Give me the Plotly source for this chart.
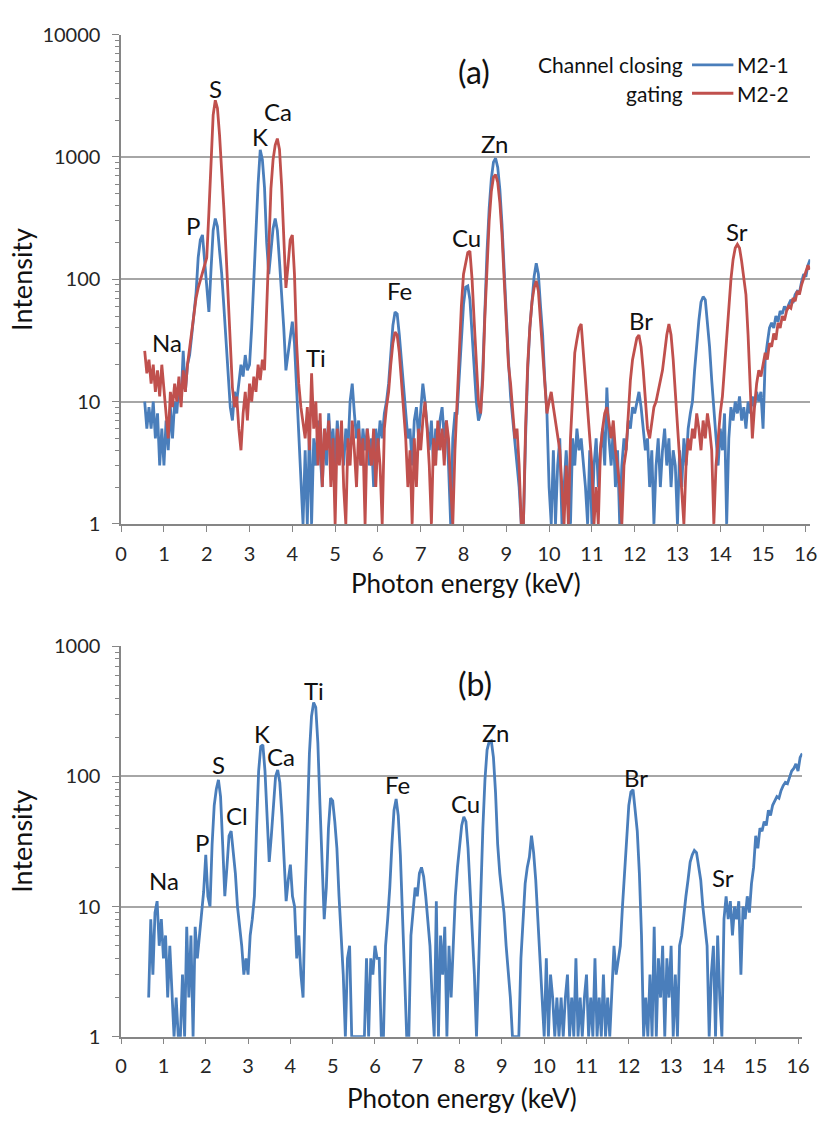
import numpy as np
import plotly.graph_objects as go

# ---- spectrum data (counts), 0.05 keV channels ----
# Panel (a): channel closing M2-1 / gating M2-2, channels from 0.55 keV
E0_A = 0.55
m21_counts = [
    10, 6, 9, 6, 10, 5, 8, 3, 6,
    3, 7, 4, 9, 5, 10, 8, 14, 10, 26, 12, 20, 24, 35, 50, 77, 150, 210, 230, 140,
    75, 54, 120, 250, 313, 270, 170, 110, 60, 30, 18, 9, 7, 12, 10, 15, 20, 16, 24, 18,
    20, 40, 100, 260, 600, 1140, 950, 560, 200, 110, 160, 260, 313, 250, 140, 80, 40, 18, 25, 35,
    45, 30, 13, 6, 2, 1, 4, 1, 6, 1, 5, 3, 7, 4, 2, 6, 3, 8, 4, 6,
    3, 7, 4, 5, 3, 6, 4, 10, 14, 8, 5, 7, 3, 6, 4, 6, 3, 5, 2, 6,
    4, 7, 5, 8, 10, 14, 25, 42, 54, 52, 35, 22, 12, 8, 5, 6, 3, 7, 9, 5,
    8, 14, 10, 6, 4, 7, 3, 6, 4, 7, 9, 5, 7, 3, 1, 5, 8, 8, 16, 32,
    62, 86, 88, 68, 38, 18, 10, 7, 8, 18, 60, 170, 380, 660, 905, 975, 820, 540, 280, 115,
    44, 22, 11, 7, 5, 3, 2, 1, 1, 5, 18, 40, 70, 105, 135, 110, 60, 35, 15, 8,
    2, 1, 4, 1, 3, 5, 1, 2, 4, 2, 1, 5, 3, 6, 4, 5, 3, 2, 1, 4,
    1, 3, 5, 2, 4, 6, 3, 13, 5, 3, 6, 2, 4, 1, 3, 5, 4, 7, 6, 9,
    8, 10, 12, 9, 6, 4, 5, 2, 4, 1, 3, 5, 2, 4, 6, 3, 5, 2, 4, 3,
    1, 4, 2, 5, 3, 6, 8, 10, 18, 30, 46, 65, 72, 68, 45, 28, 15, 9, 5, 3,
    6, 4, 8, 1, 5, 9, 7, 10, 8, 11, 7, 9, 6, 10, 8, 11, 9, 12, 10, 12,
    6, 22, 30, 40, 44, 40, 50, 45, 55, 52, 60, 56, 62, 68, 64, 75, 80, 78, 95, 110,
    105, 130, 145,
]
m22_counts = [
    26, 17, 22, 14, 20, 12, 18, 11, 20,
    12, 8, 5, 12, 9, 14, 10, 16, 9, 18, 12, 20, 28, 40, 55, 70, 85, 97, 110, 130,
    150, 350, 1000, 2200, 2900, 2500, 1500, 800, 380, 170, 75, 30, 13, 9, 11, 6, 4, 8, 12, 7,
    14, 10, 16, 12, 20, 15, 22, 18, 60, 250, 550, 950, 1250, 1410, 1150, 580, 200, 85, 130, 210,
    230, 110, 30, 14, 9, 7, 5, 9, 4, 17, 6, 10, 3, 8, 2, 6, 4, 7, 2, 5,
    1, 6, 3, 7, 2, 1, 5, 3, 7, 4, 2, 6, 3, 5, 1, 6, 4, 3, 6, 2,
    5, 3, 1, 6, 9, 12, 20, 30, 37, 35, 25, 15, 9, 5, 2, 4, 1, 5, 2, 6,
    4, 7, 10, 6, 3, 1, 5, 3, 7, 4, 6, 3, 7, 5, 2, 1, 4, 10, 25, 60,
    110, 140, 165, 170, 100, 45, 20, 10, 8, 15, 50, 140, 300, 520, 680, 715, 620, 420, 230, 100,
    40, 20, 14, 9, 5, 6, 3, 1, 1, 6, 20, 40, 65, 85, 97, 80, 45, 22, 12, 8,
    10, 12, 9, 7, 5, 4, 2, 1, 3, 1, 5, 12, 25, 32, 40, 43, 25, 14, 8, 5,
    3, 1, 2, 1, 4, 6, 8, 9, 7, 5, 7, 4, 3, 2, 1, 3, 4, 8, 15, 22,
    28, 33, 35, 28, 18, 10, 6, 5, 7, 9, 10, 12, 15, 18, 25, 35, 43, 35, 22, 12,
    6, 3, 2, 1, 3, 5, 4, 6, 5, 8, 6, 4, 7, 5, 8, 6, 4, 1, 3, 5,
    8, 11, 20, 35, 55, 100, 145, 180, 193, 180, 140, 100, 75, 35, 15, 5, 9, 14, 18, 16,
    20, 25, 22, 30, 28, 36, 32, 44, 40, 50, 46, 55, 60, 58, 70, 66, 80, 75, 90, 100,
    115, 130, 120,
]

# Panel (b): single spectrum, channels from 0.65 keV
E0_B = 0.65
b_counts = [
    2, 8, 3, 9, 11, 5, 8,
    4, 6, 2, 5, 2, 1, 2, 1, 1, 3, 1, 7, 2, 6, 1, 7, 4, 6, 10, 13,
    25, 12, 10, 30, 60, 80, 94, 70, 30, 12, 20, 35, 38, 27, 18, 10, 7, 5, 3, 4,
    3, 6, 8, 12, 40, 110, 170, 175, 110, 50, 22, 35, 63, 100, 112, 90, 50, 22, 11, 16,
    21, 12, 10, 4, 6, 3, 2, 12, 40, 150, 290, 370, 340, 180, 60, 22, 8, 14, 40, 68,
    65, 45, 28, 12, 6, 3, 1, 4, 5, 1, 1, 1, 1, 1, 1, 1, 4, 1, 4, 3,
    5, 4, 4, 1, 1, 5, 8, 14, 30, 55, 67, 50, 25, 10, 3, 1, 1, 6, 9, 14,
    12, 18, 20, 17, 12, 8, 5, 2, 1, 11, 1, 6, 3, 7, 1, 5, 2, 5, 12, 20,
    30, 42, 49, 45, 28, 14, 6, 3, 1, 3, 12, 40, 95, 160, 185, 188, 140, 75, 30, 18,
    12, 9, 5, 3, 2, 1, 1, 1, 1, 4, 8, 15, 20, 24, 35, 26, 16, 8, 4, 2,
    1, 4, 1, 3, 2, 1, 2, 1, 2, 1, 2, 3, 1, 2, 1, 4, 1, 2, 1, 2,
    3, 1, 2, 1, 4, 1, 2, 1, 3, 1, 2, 1, 2, 5, 3, 4, 5, 10, 18, 35,
    60, 76, 79, 55, 38, 18, 6, 1, 2, 1, 3, 1, 7, 1, 4, 2, 5, 1, 4, 2,
    5, 1, 3, 1, 5, 6, 9, 12, 16, 22, 25, 27, 26, 20, 16, 10, 7, 5, 1, 3,
    5, 1, 6, 2, 1, 8, 12, 8, 11, 6, 10, 8, 11, 3, 10, 8, 12, 9, 15, 20,
    35, 28, 40, 38, 45, 42, 55, 50, 60, 65, 70, 68, 78, 85, 90, 88, 100, 110, 115, 125,
    110, 140, 150,
]

# element labels: (text, energy keV, log10 intensity)
labels_a = [("Na", 1.07, 1.48), ("P", 1.69, 2.44), ("S", 2.21, 3.56), ("K", 3.25, 3.17),
            ("Ca", 3.66, 3.37), ("Ti", 4.56, 1.36), ("Fe", 6.51, 1.91), ("Cu", 8.08, 2.34),
            ("Zn", 8.73, 3.11), ("Br", 12.14, 1.66), ("Sr", 14.38, 2.39)]
labels_b = [("Na", 1.01, 1.20), ("P", 1.90, 1.49), ("S", 2.30, 2.09), ("Cl", 2.75, 1.70),
            ("K", 3.32, 2.33), ("Ca", 3.77, 2.15), ("Ti", 4.56, 2.66), ("Fe", 6.53, 1.94),
            ("Cu", 8.13, 1.79), ("Zn", 8.86, 2.34), ("Br", 12.16, 1.99), ("Sr", 14.22, 1.22)]

x_ticks = list(range(0, 17))

BLUE = "#4a7ebb"
RED = "#c0504d"
GRID = "#a6a6a6"
AXIS = "#868686"
TXT = "#111111"
FONT = "Lato"
W, H = 825, 1128

e_a = np.round(E0_A + 0.05 * np.arange(len(m21_counts)), 2)
e_b = np.round(E0_B + 0.05 * np.arange(len(b_counts)), 2)

fig = go.Figure()
fig.add_trace(go.Scatter(x=e_a, y=m21_counts, mode="lines", name="M2-1",
                         line=dict(color=BLUE, width=2.8), xaxis="x", yaxis="y"))
fig.add_trace(go.Scatter(x=e_a, y=m22_counts, mode="lines", name="M2-2",
                         line=dict(color=RED, width=2.8), xaxis="x", yaxis="y"))
fig.add_trace(go.Scatter(x=e_b, y=b_counts, mode="lines", name="b",
                         line=dict(color=BLUE, width=2.8), xaxis="x2", yaxis="y2"))


def px_x(p):
    return p / W


def px_y(p):
    return 1 - p / H


def minor_vals(decades):
    return [m * 10 ** d for d in range(decades) for m in range(2, 10)]


xcommon = dict(range=[0, 16.1], tickmode="array", tickvals=x_ticks, ticks="outside",
               ticklen=6, tickcolor=AXIS, tickwidth=1.2, showline=True, linecolor=AXIS,
               linewidth=1.5, showgrid=False, zeroline=False,
               tickfont=dict(family=FONT, size=20, color="#262626"), ticklabelstandoff=5)
ycommon = dict(type="log", ticks="outside", ticklen=7, tickcolor=AXIS, tickwidth=1.2,
               showline=True, linecolor=AXIS, linewidth=1.5, showgrid=True,
               gridcolor=GRID, gridwidth=2, zeroline=False,
               tickfont=dict(family=FONT, size=20, color="#262626"), ticklabelstandoff=8)

fig.update_layout(
    width=W, height=H, margin=dict(l=0, r=0, t=0, b=0),
    paper_bgcolor="white", plot_bgcolor="white", showlegend=False,
    xaxis=dict(domain=[px_x(117), px_x(817)], anchor="y", **xcommon),
    yaxis=dict(domain=[px_y(522), px_y(22)], anchor="x", range=[0, 4],
               tickmode="array", tickvals=[1, 10, 100, 1000, 10000],
               ticktext=["1", "10", "100", "1000", "10000"],
               minor=dict(tickmode="array", tickvals=minor_vals(4), ticks="outside",
                          ticklen=4, tickcolor=AXIS, tickwidth=1, showgrid=False),
               **ycommon),
    xaxis2=dict(domain=[px_x(117), px_x(809)], anchor="y2", **xcommon),
    yaxis2=dict(domain=[px_y(1046), px_y(647)], anchor="x2", range=[0, 3],
                tickmode="array", tickvals=[1, 10, 100, 1000],
                ticktext=["1", "10", "100", "1000"],
                minor=dict(tickmode="array", tickvals=minor_vals(3), ticks="outside",
                           ticklen=4, tickcolor=AXIS, tickwidth=1, showgrid=False),
                **ycommon),
)

ann = []
for t, x, y in labels_a:
    ann.append(dict(text=t, x=x, y=y, xref="x", yref="y", showarrow=False,
                    xanchor="center", yanchor="middle",
                    font=dict(family=FONT, size=24, color=TXT)))
for t, x, y in labels_b:
    ann.append(dict(text=t, x=x, y=y, xref="x2", yref="y2", showarrow=False,
                    xanchor="center", yanchor="middle",
                    font=dict(family=FONT, size=24, color=TXT)))
ann.append(dict(text="(a)", x=8.25, y=3.7, xref="x", yref="y", showarrow=False,
                xanchor="center", yanchor="middle",
                font=dict(family=FONT, size=32, color=TXT)))
ann.append(dict(text="(b)", x=8.37, y=2.71, xref="x2", yref="y2", showarrow=False,
                xanchor="center", yanchor="middle",
                font=dict(family=FONT, size=32, color=TXT)))

# axis titles
for yc in (272, 846):
    ann.append(dict(text="Intensity", x=px_x(15), y=px_y(yc), xref="paper", yref="paper",
                    showarrow=False, textangle=-90, xanchor="center", yanchor="middle",
                    font=dict(family=FONT, size=27, color=TXT)))
for yc, xc in ((582, 467), (1109, 463)):
    ann.append(dict(text="Photon energy (keV)", x=px_x(xc), y=px_y(yc), xref="paper",
                    yref="paper", showarrow=False, xanchor="center", yanchor="middle",
                    font=dict(family=FONT, size=26, color=TXT)))

# legend block
leg = [("Channel closing", "M2-1", BLUE, 53), ("gating", "M2-2", RED, 82)]
shapes = []
for left, right, col, yy in leg:
    ann.append(dict(text=left, x=px_x(690), y=px_y(yy), xref="paper", yref="paper",
                    xanchor="right", yanchor="middle", showarrow=False,
                    font=dict(family=FONT, size=21, color=TXT)))
    ann.append(dict(text=right, x=px_x(741), y=px_y(yy), xref="paper", yref="paper",
                    xanchor="left", yanchor="middle", showarrow=False,
                    font=dict(family=FONT, size=21, color=TXT)))
    shapes.append(dict(type="line", xref="paper", yref="paper",
                       x0=px_x(697), x1=px_x(739), y0=px_y(yy), y1=px_y(yy),
                       line=dict(color=col, width=2.8)))

fig.update_layout(annotations=ann, shapes=shapes)
fig.write_html("out.html")
